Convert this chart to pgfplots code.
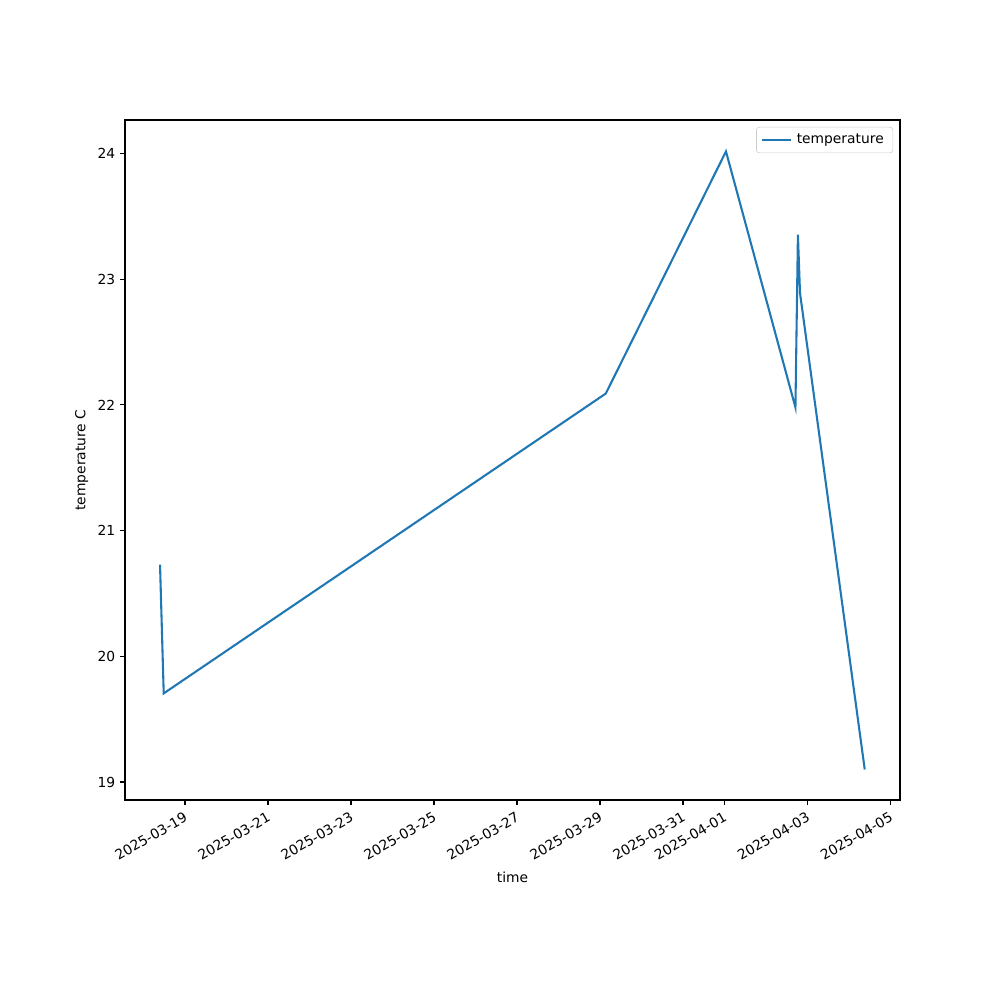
\documentclass[border=0pt]{standalone}
\usepackage{pgfplots}
\pgfplotsset{compat=1.18}
\usepackage{fontspec}
\setmainfont{DejaVu Sans}
\definecolor{mplblue}{HTML}{1F77B4}
\begin{document}
\begin{tikzpicture}
\path[use as bounding box] (0,0) rectangle (720bp,720bp);
\begin{axis}[
  at={(90bp,144bp)}, anchor=south west,
  scale only axis, width=558bp, height=489.6bp,
  xmin=-1.446, xmax=17.23, ymin=18.857, ymax=24.266,
  xtick={0,2,4,6,8,10,12,13,15,17},
  xticklabels={2025-03-19,2025-03-21,2025-03-23,2025-03-25,2025-03-27,2025-03-29,2025-03-31,2025-04-01,2025-04-03,2025-04-05},
  x tick label style={rotate=30, anchor=north east, font=\fontsize{10}{12}\selectfont},
  ytick={19,20,21,22,23,24},
  y tick label style={font=\fontsize{10}{12}\selectfont},
  /pgf/number format/assume math mode=true,
  tick align=outside, tick pos=left,
  major tick length=3.5bp,
  every tick/.style={black, line width=0.8bp},
  axis line style={line width=0.8bp},
  xlabel={time}, ylabel={temperature C},
  label style={font=\fontsize{10}{12}\selectfont},
  legend style={at={(1,1)}, anchor=north east, xshift=-5bp, yshift=-5bp,
    draw=black!20, rounded corners=2bp, font=\fontsize{10}{12}\selectfont,
    inner xsep=3bp, inner ysep=3bp,
    /tikz/every even column/.append style={column sep=0bp}},
  legend cell align=left,
  legend image code/.code={\draw[#1] (0bp,0bp) -- (21bp,0bp);},
  legend style={nodes={inner xsep=3.5bp}},
]
\addplot[mplblue, line width=1.5bp, mark=none] coordinates {
(-0.602,20.73)
(-0.513,19.705)
(10.14,22.09)
(13.036,24.016)
(14.71,21.98)
(14.77,23.354)
(14.82,22.89)
(16.38,19.10)
};
\addlegendentry{temperature}
\end{axis}
\end{tikzpicture}
\end{document}
